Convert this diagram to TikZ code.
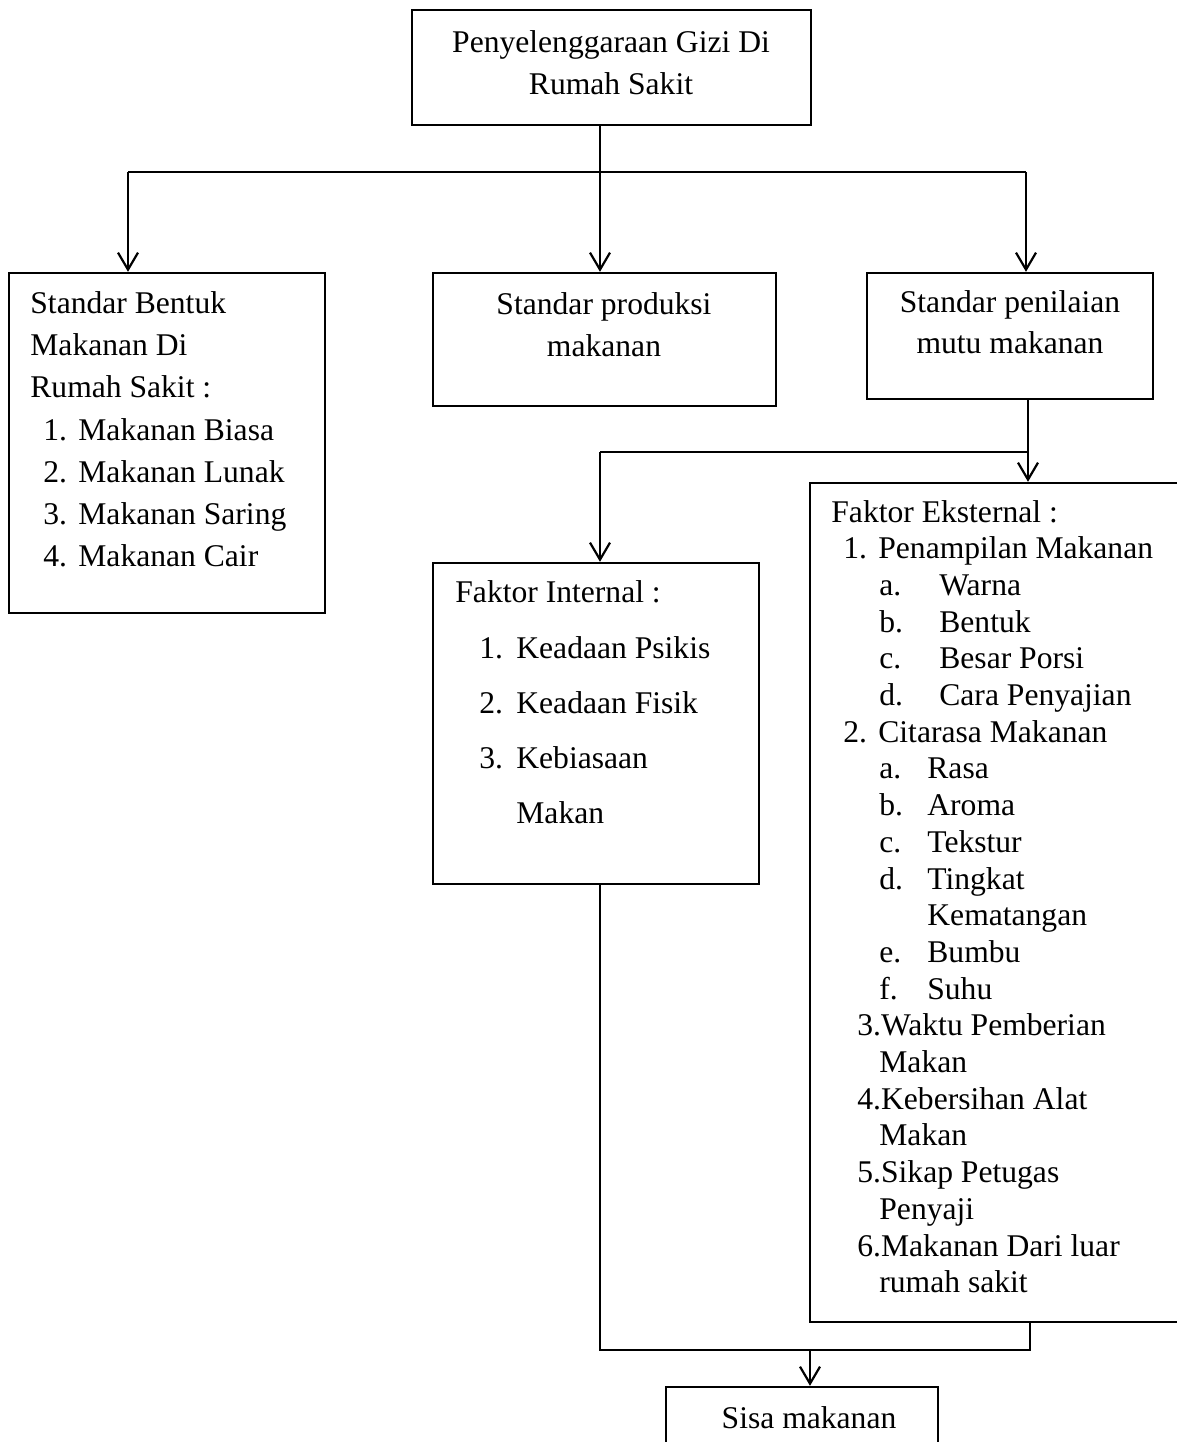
\documentclass[tikz,border=0pt]{standalone}
\usepackage{fontspec}
\setmainfont{Liberation Serif}
\usetikzlibrary{arrows.meta,fit}
\newcommand{\nitem}[3]{\makebox[#1][l]{#2}#3}
\begin{document}
\begin{tikzpicture}[x=0.5pt,y=-0.5pt,
  box/.style={draw, line width=1.2pt, inner sep=0pt},
  txt/.style={inner sep=0pt, anchor=base west, font=\fontsize{15.8pt}{21pt}\selectfont},
  ctxt/.style={txt, anchor=base},
  conn/.style={line width=1.2pt},
  arr/.style={line width=1.2pt, -{Straight Barb[length=8.5pt,width=10pt,line width=1.1pt]}}]
\useasboundingbox (0,0) rectangle (1177,1442);
\clip (0,0) rectangle (1177,1442);

% boxes
\node[box, fit={(412,10) (811,125)}] (top) {};
\node[box, fit={(9,273) (325,613)}] (left) {};
\node[box, fit={(433,273) (776,406)}] (prod) {};
\node[box, fit={(867,273) (1153,399)}] (nilai) {};
\node[box, fit={(433,563) (759,884)}] (int) {};
\node[box, fit={(810,483) (1220,1322)}] (eks) {};
\node[box, fit={(666,1387) (938,1480)}] (sisa) {};

% junction coordinates
\coordinate (xa) at (128,172);
\coordinate (xb) at (600,172);
\coordinate (xc) at (1026,172);
\coordinate (ya) at (600,452);
\coordinate (yb) at (1028,452);
\coordinate (za) at (600,1350);
\coordinate (zb) at (1030,1350);
\coordinate (zc) at (810,1350);

% connectors
\draw[conn] (top.south -| xb) -- (xb);
\draw[conn] (xa) -- (xc);
\draw[arr] (xa) -- (xa |- left.north);
\draw[arr] (xb) -- (xb |- prod.north);
\draw[arr] (xc) -- (xc |- nilai.north);
\draw[arr] (nilai.south -| yb) -- (yb |- eks.north);
\draw[conn] (ya) -- (yb);
\draw[arr] (ya) -- (ya |- int.north);
\draw[conn] (int.south -| za) -- (za) -- (zb) -- (zb |- eks.south);
\draw[arr] (zc) -- (zc |- sisa.north);

% top box text
\node[ctxt] (t1) at (611,52) {Penyelenggaraan Gizi Di};
\node[ctxt] (t2) at (611,94) {Rumah Sakit};

% left box text
\node[txt] (l1) at (30,313) {Standar Bentuk};
\node[txt] (l2) at (30,355) {Makanan Di};
\node[txt] (l3) at (30,397) {Rumah Sakit :};
\node[txt] (l4) at (43,440) {\nitem{17.5pt}{1.}{Makanan Biasa}};
\node[txt] (l5) at (43,482) {\nitem{17.5pt}{2.}{Makanan Lunak}};
\node[txt] (l6) at (43,524) {\nitem{17.5pt}{3.}{Makanan Saring}};
\node[txt] (l7) at (43,566) {\nitem{17.5pt}{4.}{Makanan Cair}};

% production box text
\node[ctxt] (p1) at (604,314) {Standar produksi};
\node[ctxt] (p2) at (604,356) {makanan};

% assessment box text
\node[ctxt] (n1) at (1010,312) {Standar penilaian};
\node[ctxt] (n2) at (1010,353) {mutu makanan};

% internal factors
\node[txt] (i1) at (455,602) {Faktor Internal :};
\node[txt] (i2) at (479,658) {\nitem{18.5pt}{1.}{Keadaan Psikis}};
\node[txt] (i3) at (479,713) {\nitem{18.5pt}{2.}{Keadaan Fisik}};
\node[txt] (i4) at (479,768) {\nitem{18.5pt}{3.}{Kebiasaan}};
\node[txt] (i5) at (516,823) {Makan};

% external factors
\node[txt] (e0) at (831,522) {Faktor Eksternal :};
\node[txt] (e1) at (843,558.7) {\nitem{17.5pt}{1.}{Penampilan Makanan}};
\node[txt] (e2) at (879,595.4) {\nitem{30pt}{a.}{Warna}};
\node[txt] (e3) at (879,632.1) {\nitem{30pt}{b.}{Bentuk}};
\node[txt] (e4) at (879,668.8) {\nitem{30pt}{c.}{Besar Porsi}};
\node[txt] (e5) at (879,705.5) {\nitem{30pt}{d.}{Cara Penyajian}};
\node[txt] (e6) at (843,742.2) {\nitem{17.5pt}{2.}{Citarasa Makanan}};
\node[txt] (e7) at (879,778.9) {\nitem{24pt}{a.}{Rasa}};
\node[txt] (e8) at (879,815.6) {\nitem{24pt}{b.}{Aroma}};
\node[txt] (e9) at (879,852.3) {\nitem{24pt}{c.}{Tekstur}};
\node[txt] (e10) at (879,889) {\nitem{24pt}{d.}{Tingkat}};
\node[txt] (e11) at (927,925.7) {Kematangan};
\node[txt] (e12) at (879,962.4) {\nitem{24pt}{e.}{Bumbu}};
\node[txt] (e13) at (879,999.1) {\nitem{24pt}{f.}{Suhu}};
\node[txt] (e14) at (857,1035.8) {3.Waktu Pemberian};
\node[txt] (e15) at (879,1072.5) {Makan};
\node[txt] (e16) at (857,1109.2) {4.Kebersihan Alat};
\node[txt] (e17) at (879,1145.9) {Makan};
\node[txt] (e18) at (857,1182.6) {5.Sikap Petugas};
\node[txt] (e19) at (879,1219.3) {Penyaji};
\node[txt] (e20) at (857,1256) {6.Makanan Dari luar};
\node[txt] (e21) at (879,1292.7) {rumah sakit};

% result
\node[ctxt] (s1) at (809,1428) {Sisa makanan};
\end{tikzpicture}
\end{document}
